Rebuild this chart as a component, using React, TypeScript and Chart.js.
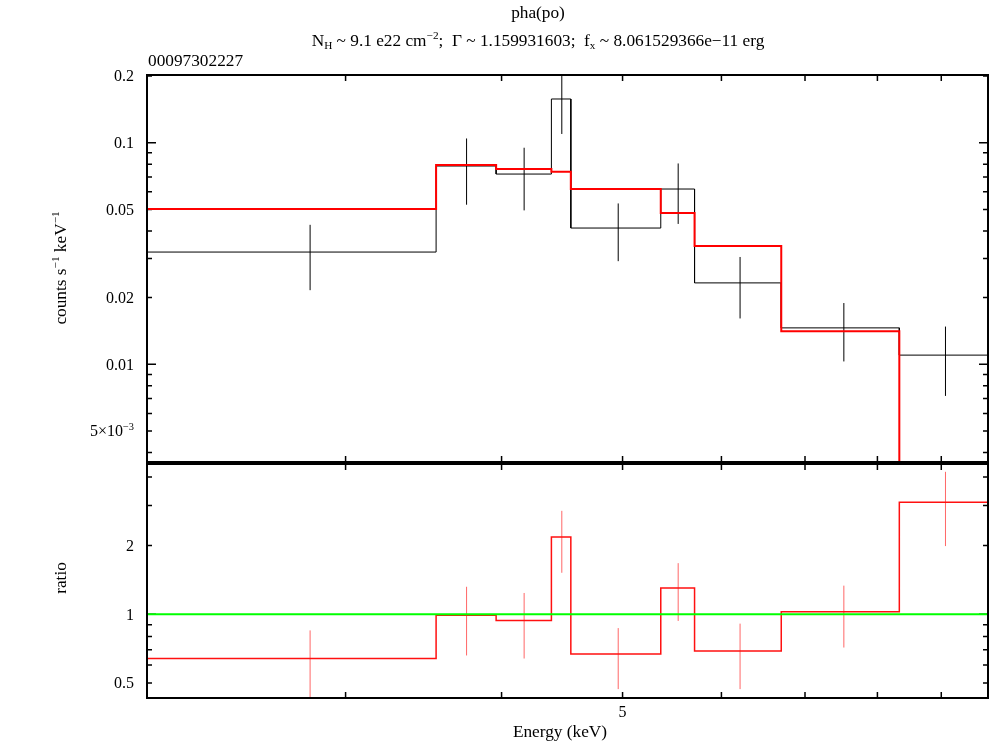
import React, { useEffect, useRef } from "react";
import { Chart, registerables } from "chart.js";
Chart.register(...registerables);

// ---- data (energy in keV) ----
const binLow = [2.08, 3.545, 3.96, 4.385, 4.545, 5.365, 5.71, 6.7, 8.33];
const binHigh = [3.545, 3.96, 4.385, 4.545, 5.365, 5.71, 6.7, 8.33, 9.81];
const binCenter = [2.81, 3.75, 4.17, 4.47, 4.96, 5.54, 6.21, 7.52, 9.07];
const dataRate = [0.0321, 0.0785, 0.0722, 0.1575, 0.0412, 0.0618, 0.0233, 0.0146, 0.011];
const dataErr = [0.0105, 0.026, 0.0227, 0.048, 0.012, 0.0188, 0.0072, 0.0043, 0.0038];
const modelRate = [0.0502, 0.0793, 0.0761, 0.074, 0.0618, 0.0482, 0.0342, 0.0141, 0.0035];
const ratioVal = [0.64, 0.99, 0.94, 2.18, 0.67, 1.305, 0.69, 1.025, 3.1];
const ratioErr = [0.21, 0.33, 0.3, 0.66, 0.2, 0.37, 0.22, 0.31, 1.11];

const energyRange = [2.08, 9.81];
const countRange = [0.003623, 0.2021];
const ratioRange = [0.4297, 4.556];

const energyTicks = [3, 4, 5, 6, 7, 8, 9];
const energyTickLabels = ["", "", "5", "", "", "", ""];
const countTicks = [0.004, 0.005, 0.006, 0.007, 0.008, 0.009, 0.01, 0.02, 0.03, 0.04, 0.05, 0.06, 0.07, 0.08, 0.09, 0.1, 0.2];
const countTickLabels = ["", "5×10^{−3}", "", "", "", "", "0.01", "0.02", "", "", "0.05", "", "", "", "", "0.1", "0.2"];
const ratioTicks = [0.5, 0.6, 0.7, 0.8, 0.9, 1, 2, 3, 4];
const ratioTickLabels = ["0.5", "", "", "", "", "1", "2", "", ""];

const titleLine1 = "pha(po)";
const titleLine2 = "N_{H} ~ 9.1 e22 cm^{−2};  Γ ~ 1.159931603;  f_{x} ~ 8.061529366e−11 erg";
const obsId = "00097302227";
const countLabel = "counts s^{−1} keV^{−1}";
const ratioLabel = "ratio";
const energyLabel = "Energy (keV)";

const FONT = '"Liberation Serif", "Times New Roman", "DejaVu Serif", serif';
const FS = 16;
const FT = 17.3;

type Seg = { t: string; k: number };
function parseRich(s: string): Seg[] {
  const out: Seg[] = [];
  let i = 0;
  let buf = "";
  while (i < s.length) {
    const c = s[i];
    if ((c === "^" || c === "_") && s[i + 1] === "{") {
      if (buf) { out.push({ t: buf, k: 0 }); buf = ""; }
      const end = s.indexOf("}", i + 2);
      out.push({ t: s.slice(i + 2, end), k: c === "^" ? 1 : -1 });
      i = end + 1;
    } else { buf += c; i++; }
  }
  if (buf) out.push({ t: buf, k: 0 });
  return out;
}

function drawRich(ctx: CanvasRenderingContext2D, s: string, x: number, y: number, size: number, align: string) {
  const segs = parseRich(s);
  const small = size * 0.65;
  let w = 0;
  for (const g of segs) {
    ctx.font = `${g.k ? small : size}px ${FONT}`;
    w += ctx.measureText(g.t).width;
  }
  let cx = align === "center" ? x - w / 2 : align === "right" ? x - w : x;
  ctx.textAlign = "left";
  ctx.textBaseline = "alphabetic";
  for (const g of segs) {
    ctx.font = `${g.k ? small : size}px ${FONT}`;
    const dy = g.k === 1 ? -size * 0.4 : g.k === -1 ? size * 0.2 : 0;
    ctx.fillText(g.t, cx, y + dy);
    cx += ctx.measureText(g.t).width;
  }
}

function stepPoints(vals: number[]) {
  const pts: any[] = [];
  vals.forEach((v, i) => { pts.push({ x: binLow[i], y: v }); pts.push({ x: binHigh[i], y: v }); });
  return pts;
}
function errPoints(vals: number[], errs: number[]) {
  const pts: any[] = [];
  vals.forEach((v, i) => {
    pts.push({ x: binCenter[i], y: v - errs[i] });
    pts.push({ x: binCenter[i], y: v + errs[i] });
    pts.push({ x: binCenter[i], y: null });
  });
  return pts;
}

function isDecade(v: number) {
  const l = Math.log10(v);
  return Math.abs(l - Math.round(l)) < 1e-6;
}

function framePlugin(yTicks: number[], yLabels: string[], xLabels: string[] | null, extra: (ctx: CanvasRenderingContext2D) => void) {
  return {
    id: "frame",
    beforeDatasetsDraw(chart: any) {
      const { ctx, chartArea } = chart;
      const { left, top, right, bottom } = chartArea;
      const xs = chart.scales.x;
      const ys = chart.scales.y;
      ctx.save();
      ctx.strokeStyle = "#000";
      ctx.lineWidth = 1.5;
      ctx.beginPath();
      energyTicks.forEach((v) => {
        const px = xs.getPixelForValue(v);
        ctx.moveTo(px, top); ctx.lineTo(px, top + 6);
        ctx.moveTo(px, bottom); ctx.lineTo(px, bottom - 6);
      });
      yTicks.forEach((v) => {
        const py = ys.getPixelForValue(v);
        const len = isDecade(v) ? 9 : 5;
        ctx.moveTo(left, py); ctx.lineTo(left + len, py);
        ctx.moveTo(right, py); ctx.lineTo(right - len, py);
      });
      ctx.stroke();
      ctx.restore();
    },
    afterDatasetsDraw(chart: any) {
      const { ctx, chartArea } = chart;
      const { left, top, right, bottom } = chartArea;
      const xs = chart.scales.x;
      const ys = chart.scales.y;
      ctx.save();
      ctx.strokeStyle = "#000";
      ctx.lineWidth = 2;
      ctx.strokeRect(left, top, right - left, bottom - top);
      ctx.fillStyle = "#000";
      yTicks.forEach((v, i) => {
        if (!yLabels[i]) return;
        const py = ys.getPixelForValue(v);
        drawRich(ctx, yLabels[i], left - 13, py + FS * 0.33, FS, "right");
      });
      if (xLabels) {
        energyTicks.forEach((v, i) => {
          if (!xLabels[i]) return;
          const px = xs.getPixelForValue(v);
          drawRich(ctx, xLabels[i], px, bottom + 19, FS, "center");
        });
      }
      extra(ctx);
      ctx.restore();
    },
  };
}

function baseOptions(pad: any, yRange: number[]) {
  return {
    animation: false as const,
    responsive: false,
    events: [] as any[],
    layout: { padding: pad },
    scales: {
      x: { type: "logarithmic" as const, min: energyRange[0], max: energyRange[1], display: false },
      y: { type: "logarithmic" as const, min: yRange[0], max: yRange[1], display: false },
    },
    plugins: { legend: { display: false }, tooltip: { enabled: false } },
    elements: { point: { radius: 0 }, line: { tension: 0 } },
  };
}

export default function App() {
  const topRef = useRef<HTMLCanvasElement>(null);
  const botRef = useRef<HTMLCanvasElement>(null);

  useEffect(() => {
    const top = new Chart(topRef.current!, {
      type: "line",
      data: {
        datasets: [
          { data: stepPoints(modelRate), borderColor: "#ff0000", borderWidth: 2, order: 0, clip: 0 } as any,
          { data: stepPoints(dataRate), borderColor: "#000000", borderWidth: 1, order: 1, clip: 0 } as any,
          { data: errPoints(dataRate, dataErr), borderColor: "#000000", borderWidth: 1, spanGaps: false, order: 2, clip: 0 } as any,
        ],
      },
      options: baseOptions({ left: 147, top: 75, right: 2, bottom: 280 }, countRange) as any,
      plugins: [
        framePlugin(countTicks, countTickLabels, null, (ctx) => {
          drawRich(ctx, titleLine1, 538, 18, FT, "center");
          drawRich(ctx, titleLine2, 538, 46, FT, "center");
          drawRich(ctx, obsId, 148, 66, FT, "left");
          ctx.save();
          ctx.translate(66, 268);
          ctx.rotate(-Math.PI / 2);
          drawRich(ctx, countLabel, 0, 0, FT, "center");
          ctx.restore();
        }),
      ],
    });
    const bot = new Chart(botRef.current!, {
      type: "line",
      data: {
        datasets: [
          { data: [{ x: energyRange[0], y: 1 }, { x: energyRange[1], y: 1 }], borderColor: "#00ff00", borderWidth: 2, order: 0, clip: 0 } as any,
          { data: stepPoints(ratioVal), borderColor: "#ff1010", borderWidth: 1.5, order: 1, clip: 0 } as any,
          { data: errPoints(ratioVal, ratioErr), borderColor: "rgba(255,0,0,0.6)", borderWidth: 1, spanGaps: false, order: 2, clip: 0 } as any,
        ],
      },
      options: baseOptions({ left: 147, top: 464, right: 2, bottom: 44 }, ratioRange) as any,
      plugins: [
        framePlugin(ratioTicks, ratioTickLabels, energyTickLabels, (ctx) => {
          drawRich(ctx, energyLabel, 560, 737, FT, "center");
          ctx.save();
          ctx.translate(66, 578);
          ctx.rotate(-Math.PI / 2);
          drawRich(ctx, ratioLabel, 0, 0, FT, "center");
          ctx.restore();
        }),
      ],
    });
    return () => { top.destroy(); bot.destroy(); };
  }, []);

  return (
    <div style={{ position: "fixed", left: 0, top: 0, width: 990, height: 742, background: "#fff" }}>
      <canvas ref={topRef} width={990} height={742} style={{ position: "absolute", left: 0, top: 0 }} />
      <canvas ref={botRef} width={990} height={742} style={{ position: "absolute", left: 0, top: 0 }} />
    </div>
  );
}
